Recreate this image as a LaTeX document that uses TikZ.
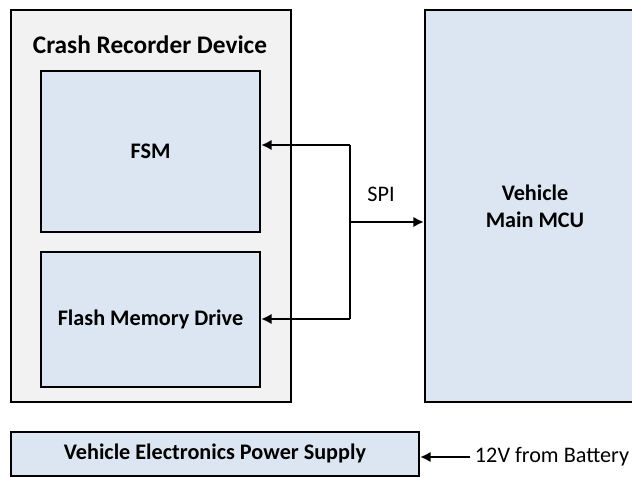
\documentclass[tikz,border=0pt]{standalone}
\usepackage{fontspec}
\setmainfont{Carlito}
\usetikzlibrary{arrows.meta,positioning}
\definecolor{devgray}{HTML}{F2F2F2}
\definecolor{blockblue}{HTML}{DCE6F2}
\tikzset{
	frame/.style={draw=black, line width=1.6pt, fill=devgray},
	block/.style={draw=black, line width=1.6pt, fill=blockblue, font=\bfseries\fontsize{15.8}{19}\selectfont, align=center, inner sep=0pt},
	link/.style={black, line width=1.6pt, -{Latex[length=2.6mm,width=2.6mm]}},
	bus/.style={black, line width=1.6pt}
}
\begin{document}
\begin{tikzpicture}
\useasboundingbox (0,0) rectangle (15.8,11.925);
% recorder side
\node[frame, minimum width=7cm, minimum height=9.8cm] (device) at (3.775,6.775) {};
\node[font=\bfseries\fontsize{18}{21}\selectfont] (devtitle) at (3.75,10.8) {Crash Recorder Device};
\node[block, minimum width=5.475cm, minimum height=4.025cm] (fsm) at (3.7625,8.1375) {FSM};
\node[block, minimum width=5.475cm, minimum height=3.375cm] (flash) at (3.7625,3.9375) {Flash Memory Drive};
% vehicle side
\node[block, minimum width=5.5cm, minimum height=9.8cm] (mcu) at (13.375,6.775) {Vehicle\\Main MCU};
\node[block, minimum width=10.2cm, minimum height=1.1cm] (power) at (5.375,0.58) {Vehicle Electronics Power Supply};
\node[font=\fontsize{15.8}{19}\selectfont, anchor=west] (battery) at (11.75,0.5) {12V from Battery};
% SPI bus
\coordinate (fsmtap) at (8.75,8.3);
\coordinate (flashtap) at (8.75,3.95);
\coordinate (spi) at (8.75,6.375);
\draw[bus] (fsmtap) -- (flashtap);
\draw[link] (fsmtap) -- (fsmtap -| fsm.east);
\draw[link] (flashtap) -- (flashtap -| flash.east);
\draw[link] (spi) -- (spi -| mcu.west);
\node[font=\fontsize{15.8}{19}\selectfont] (spilabel) at (9.525,7.075) {SPI};
\draw[link] (battery.west) -- (battery.west -| power.east);
\end{tikzpicture}
\end{document}
